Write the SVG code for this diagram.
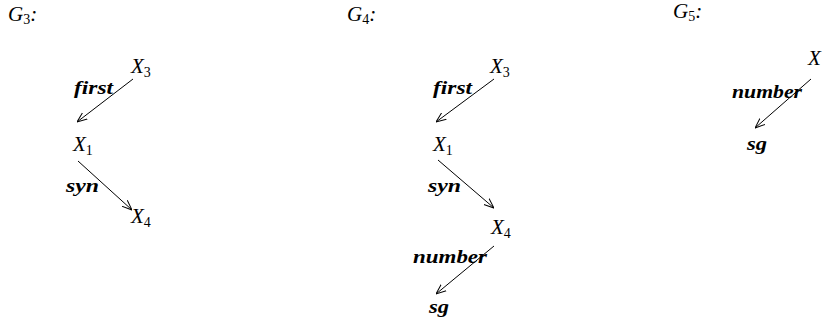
<svg xmlns="http://www.w3.org/2000/svg" width="825" height="326" viewBox="0 0 825 326">
<defs>
<style>
.t{font-family:"Liberation Serif","DejaVu Serif",serif;font-style:italic;font-size:21px;fill:#000}
.s{font-size:14px;font-style:normal}
.l{font-family:"Liberation Serif","DejaVu Serif",serif;font-style:italic;font-weight:bold;font-size:18px;fill:#000}
.e{stroke:#000;stroke-width:1;fill:none;marker-end:url(#a)}
</style>
<marker id="a" viewBox="0 0 10 10" refX="10" refY="5" markerWidth="10" markerHeight="10" markerUnits="userSpaceOnUse" orient="auto">
<path d="M0,1 L10,5 L0,9" fill="none" stroke="#000" stroke-width="1"/>
</marker>
</defs>
<g id="titles">
<text class="t" x="8" y="21">G<tspan class="s" dy="3">3</tspan><tspan dy="-3">:</tspan></text>
<text class="t" x="347" y="21">G<tspan class="s" dy="3">4</tspan><tspan dy="-3">:</tspan></text>
<text class="t" x="673" y="18">G<tspan class="s" dy="3">5</tspan><tspan dy="-3">:</tspan></text>
</g>
<g id="g3-X3"><text class="t" x="131" y="73">X<tspan class="s" dy="4">3</tspan></text></g>
<g id="g3-X1"><text class="t" x="73" y="151">X<tspan class="s" dy="4">1</tspan></text></g>
<g id="g3-X4"><text class="t" x="131" y="223">X<tspan class="s" dy="4">4</tspan></text></g>
<g id="g4-X3"><text class="t" x="490" y="73">X<tspan class="s" dy="4">3</tspan></text></g>
<g id="g4-X1"><text class="t" x="433" y="151">X<tspan class="s" dy="4">1</tspan></text></g>
<g id="g4-X4"><text class="t" x="491" y="234">X<tspan class="s" dy="4">4</tspan></text></g>
<g id="g4-sg"><text class="l" x="429" y="313" textLength="20" lengthAdjust="spacingAndGlyphs">sg</text></g>
<g id="g5-X"><text class="t" x="808" y="65">X</text></g>
<g id="g5-sg"><text class="l" x="747" y="150" textLength="20" lengthAdjust="spacingAndGlyphs">sg</text></g>
<g id="connectors">
<line class="e" x1="133" y1="79" x2="77" y2="122"/>
<line class="e" x1="78" y1="161" x2="132" y2="210"/>
<line class="e" x1="494" y1="79" x2="436" y2="122"/>
<line class="e" x1="438" y1="160" x2="494" y2="208"/>
<line class="e" x1="494" y1="246" x2="436" y2="294"/>
<line class="e" x1="811" y1="79" x2="755" y2="128"/>
</g>
<g id="labels">
<text class="l" x="74" y="94" textLength="39" lengthAdjust="spacingAndGlyphs">first</text>
<text class="l" x="66" y="192" textLength="33" lengthAdjust="spacingAndGlyphs">syn</text>
<text class="l" x="433" y="94" textLength="39" lengthAdjust="spacingAndGlyphs">first</text>
<text class="l" x="428" y="192" textLength="33" lengthAdjust="spacingAndGlyphs">syn</text>
<text class="l" x="413" y="263" textLength="74" lengthAdjust="spacingAndGlyphs">number</text>
<text class="l" x="732" y="98" textLength="70" lengthAdjust="spacingAndGlyphs">number</text>
</g>
</svg>
